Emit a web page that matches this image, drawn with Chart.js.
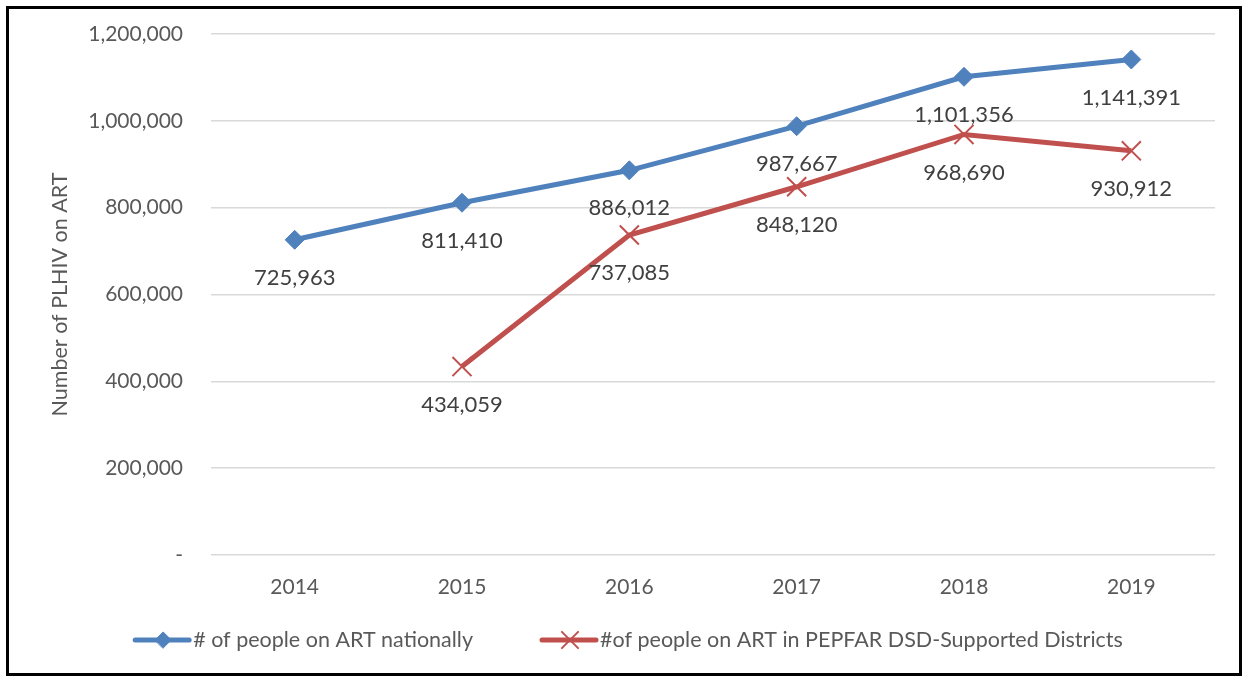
<!DOCTYPE html>
<html>
<head>
  <meta charset="utf-8">
  <title>PLHIV on ART</title>
  <style>
   * { margin: 0; padding: 0; box-sizing: border-box; }
   body { width: 1244px; height: 677px; background: #fff; overflow: hidden; position: relative; }
   #frame {
     position: absolute; left: 6px; top: 6px; width: 1236px; height: 670px;
     border: 3px solid #000; pointer-events: none;
   }
   #wrap { position: absolute; left: 0; top: 0; width: 1244px; height: 677px; }
  </style>
</head>
<body>
<div id="wrap"><canvas id="artChart" width="1244" height="677"></canvas></div>
<div id="frame"></div>
<script src="https://cdn.jsdelivr.net/npm/chart.js"></script>
<script>
  // values
  const years = ['2014', '2015', '2016', '2017', '2018', '2019'];
  const national = [725963, 811410, 886012, 987667, 1101356, 1141391];
  const pepfarDistricts = [null, 434059, 737085, 848120, 968690, 930912];
  const seriesNames = ['# of people on ART nationally', '#of people on ART in PEPFAR DSD-Supported Districts'];

  const FONT = 'Lato, "Open Sans", sans-serif';
  const BLUE = '#4F81BD';
  const RED = '#C0504D';

  const fmt = v => v.toLocaleString('en-US');

  // value labels under each point
  const valueLabels = {
    id: 'valueLabels',
    afterDatasetsDraw(chart) {
      const ctx = chart.ctx;
      ctx.save();
      ctx.font = '22px ' + FONT;
      ctx.fillStyle = '#404040';
      ctx.textAlign = 'center';
      ctx.textBaseline = 'middle';
      chart.data.datasets.forEach((ds, i) => {
        chart.getDatasetMeta(i).data.forEach((pt, j) => {
          const v = ds.data[j];
          if (v == null) return;
          ctx.fillText(fmt(v), pt.x, pt.y + 38);
        });
      });
      ctx.restore();
    }
  };

  // legend with line + marker swatches
  const lineLegend = {
    id: 'lineLegend',
    afterDraw(chart) {
      const ctx = chart.ctx;
      ctx.save();
      ctx.font = '21.5px ' + FONT;
      const swatch = 60, gap = 67;
      const widths = chart.data.datasets.map(ds => swatch + ctx.measureText(ds.label).width);
      const total = widths.reduce((a, b) => a + b, 0) + gap;
      let x = chart.width / 2 - total / 2 + 6;
      const y = 640;
      chart.data.datasets.forEach((ds, i) => {
        ctx.strokeStyle = ds.borderColor;
        ctx.lineWidth = 5;
        ctx.lineCap = 'round';
        ctx.beginPath();
        ctx.moveTo(x + 2, y);
        ctx.lineTo(x + swatch - 4, y);
        ctx.stroke();
        ctx.fillStyle = ds.borderColor;
        ctx.lineWidth = ds.pointBorderWidth;
        Chart.helpers.drawPoint(ctx, {
          pointStyle: ds.pointStyle,
          radius: ds.pointRadius * 0.85,
          rotation: 0,
          borderWidth: ds.pointBorderWidth
        }, x + swatch / 2, y);
        ctx.fillStyle = '#595959';
        ctx.textAlign = 'left';
        ctx.textBaseline = 'middle';
        ctx.fillText(ds.label, x + swatch, y);
        x += widths[i] + gap;
      });
      ctx.restore();
    }
  };

  new Chart(document.getElementById('artChart'), {
    type: 'line',
    data: {
      labels: years,
      datasets: [
        {
          label: seriesNames[0],
          data: national,
          borderColor: BLUE,
          backgroundColor: BLUE,
          borderWidth: 5,
          pointStyle: 'rectRot',
          pointRadius: 9.5,
          pointBorderWidth: 1,
          pointBorderColor: BLUE,
          pointBackgroundColor: BLUE,
          tension: 0
        },
        {
          label: seriesNames[1],
          data: pepfarDistricts,
          borderColor: RED,
          backgroundColor: RED,
          borderWidth: 5,
          pointStyle: 'crossRot',
          pointRadius: 13.5,
          pointBorderWidth: 2,
          pointBorderColor: RED,
          tension: 0
        }
      ]
    },
    options: {
      responsive: false,
      animation: false,
      devicePixelRatio: 1,
      layout: { padding: { top: 34, right: 29, bottom: 0, left: 0 } },
      scales: {
        x: {
          offset: true,
          grid: { display: false, drawTicks: false },
          border: { display: false },
          ticks: { color: '#595959', font: { family: FONT, size: 21 }, padding: 20 },
          afterFit(scale) { scale.height = 122; }
        },
        y: {
          min: 0,
          max: 1200000,
          grid: { color: '#D9D9D9', lineWidth: 1.5, drawTicks: false },
          border: { display: false },
          ticks: {
            stepSize: 200000,
            color: '#595959',
            font: { family: FONT, size: 21 },
            padding: 28,
            callback: v => v === 0 ? '-' : fmt(v)
          },
          title: {
            display: true,
            text: 'Number of PLHIV on ART',
            color: '#595959',
            font: { family: FONT, size: 21.5 },
            padding: { top: 47, bottom: 0 }
          },
          afterFit(scale) {
            scale.width = 211;
            scale.paddingTop = 0;
            scale.paddingBottom = 0;
          }
        }
      },
      plugins: {
        legend: { display: false },
        tooltip: { enabled: false }
      }
    },
    plugins: [valueLabels, lineLegend]
  });
</script>
</body>
</html>
